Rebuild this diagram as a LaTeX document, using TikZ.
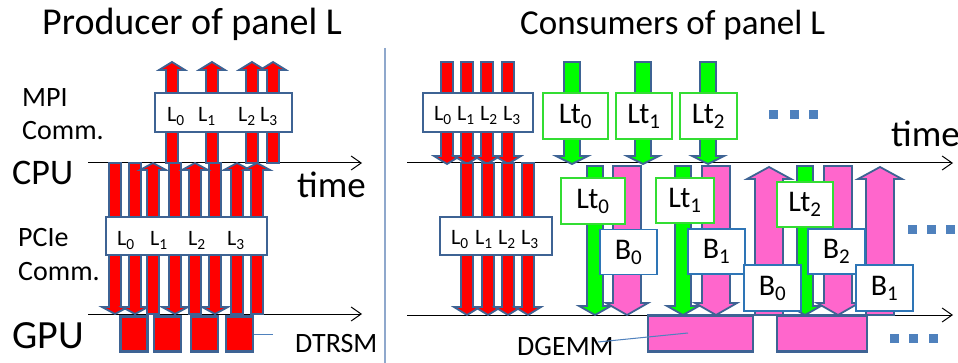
\documentclass[tikz,border=0pt]{standalone}
\usepackage{fontspec}
\setmainfont{Carlito}
\usepackage{tikz}
\usetikzlibrary{arrows.meta}

\definecolor{arrred}{HTML}{FF0000}
\definecolor{arrblue}{HTML}{3E6394}
\definecolor{arrgreen}{HTML}{00FF00}
\definecolor{arrpink}{HTML}{FF66CC}
\definecolor{ltgreen}{HTML}{33DD33}
\definecolor{bblue}{HTML}{2E75B6}
\definecolor{dotblue}{HTML}{4F81BD}
\definecolor{sepgray}{HTML}{8FA8CC}

% block arrow: style, x, tail y, tip y, head base y, half shaft, half head
\newcommand{\blkarrow}[7]{%
  \draw[#1] ({#2-#6},#3) -- ({#2+#6},#3) -- ({#2+#6},#5) -- ({#2+#7},#5)
    -- (#2,#4) -- ({#2-#7},#5) -- ({#2-#6},#5) -- cycle;}

\begin{document}
\begin{tikzpicture}[
    x=1pt, y=-1pt,
    txt/.style={inner sep=0pt, anchor=base west},
    head/.style={txt, font=\fontsize{38}{44}\selectfont},
    big/.style={txt, font=\fontsize{37}{44}\selectfont},
    mid/.style={txt, font=\fontsize{28}{34}\selectfont},
    lsub/.style={inner sep=0pt, anchor=base, font=\fontsize{22}{26}\selectfont},
    lbox/.style={rectangle, draw=arrblue, line width=2.2pt, fill=white, inner sep=0pt},
    ltbox/.style={rectangle, draw=ltgreen, line width=1.4pt, fill=white, inner sep=0pt,
        font=\fontsize{30}{36}\selectfont},
    bbox/.style={rectangle, draw=bblue, line width=1.4pt, fill=white, inner sep=0pt,
        font=\fontsize{30}{36}\selectfont},
    redarr/.style={fill=arrred, draw=arrblue, line width=1.8pt},
    grnarr/.style={fill=arrgreen, draw=arrblue, line width=1.8pt},
    pnkarr/.style={fill=arrpink, draw=arrblue, line width=1.8pt},
    trsm/.style={rectangle, draw=arrblue, line width=2.2pt, fill=arrred, inner sep=0pt,
        minimum width=27pt, minimum height=35pt},
    gemm/.style={rectangle, draw=arrblue, line width=2.2pt, fill=arrpink, inner sep=0pt,
        minimum height=36pt},
    dot/.style={rectangle, fill=dotblue, minimum size=9pt, inner sep=0pt},
    timeln/.style={-{Straight Barb[length=10pt,width=14pt]}, line width=1pt},
    lead/.style={draw=dotblue, line width=1pt}
]
\useasboundingbox (0,0) rectangle (958,363);

% titles and separator
\node[head] (prod) at (42,35) {Producer of panel L};
\node[head, font=\fontsize{35}{42}\selectfont] (cons) at (520,35) {Consumers of panel L};
\coordinate (sepa) at (385,48);
\coordinate (sepb) at (385,363);
\draw[sepgray, line width=1.5pt] (sepa) -- (sepb);

% time lines
\coordinate (cpul0) at (88,163);
\coordinate (cpul1) at (362,163);
\coordinate (gpul0) at (88,314);
\coordinate (gpul1) at (362,314);
\coordinate (cpur0) at (407,163);
\coordinate (cpur1) at (953,163);
\coordinate (gpur0) at (407,315);
\coordinate (gpur1) at (953,315);
\draw[timeln] (cpul0) -- (cpul1);
\draw[timeln] (gpul0) -- (gpul1);
\draw[timeln] (cpur0) -- (cpur1);
\draw[timeln] (gpur0) -- (gpur1);

% row labels
\node[mid] (mpi) at (22,107) {MPI};
\node[mid] (mpicomm) at (22,140) {Comm.};
\node[big, font=\fontsize{36}{44}\selectfont] (cpu) at (12,185) {CPU};
\node[big] (timel) at (297,198) {time};
\node[mid] (pcie) at (18,247) {PCIe};
\node[mid] (pciecomm) at (18,280) {Comm.};
\node[big, font=\fontsize{40}{46}\selectfont] (gpu) at (12,348) {GPU};
\node[mid] (dtrsm) at (295,352) {DTRSM};
\node[big] (timer) at (891,147) {time};
\node[mid] (dgemm) at (517,355) {DGEMM};

% producer: MPI sends
\foreach \x in {172,212,252,273}
  {\blkarrow{redarr}{\x}{163}{62}{70}{6}{13}}
\node[lbox, minimum width=137pt, minimum height=39pt] (mpil) at (223.5,112.5) {};
\node[lsub] (ml0) at (176,122) {L\textsubscript{0}};
\node[lsub] (ml1) at (207,122) {L\textsubscript{1}};
\node[lsub] (ml2) at (247,122) {L\textsubscript{2}};
\node[lsub] (ml3) at (269,122) {L\textsubscript{3}};

% producer: PCIe transfers
\foreach \x in {115,135,175,215}
  {\blkarrow{redarr}{\x}{163}{314}{307}{6}{13}}
\foreach \x in {153,195,237,257}
  {\blkarrow{redarr}{\x}{314}{163}{170}{6}{13}}
\node[lbox, minimum width=161pt, minimum height=38pt] (pcil) at (186.5,236) {};
\node[lsub] (pl0) at (126,246) {L\textsubscript{0}};
\node[lsub] (pl1) at (159,246) {L\textsubscript{1}};
\node[lsub] (pl2) at (197,246) {L\textsubscript{2}};
\node[lsub] (pl3) at (236,246) {L\textsubscript{3}};

% producer: DTRSM on GPU
\node[trsm] (t0) at (134,334) {};
\node[trsm] (t1) at (167.5,334) {};
\node[trsm] (t2) at (204.5,334) {};
\node[trsm] (t3) at (239.5,334) {};
\coordinate (trsmlead) at (273,334);
\draw[lead] (t3.east) -- (trsmlead);

% consumers: MPI receives
\foreach \x in {447,467,487,508}
  {\blkarrow{redarr}{\x}{62}{164}{156}{6}{13}}
\foreach \x in {572,643,708}
  {\blkarrow{grnarr}{\x}{62}{164}{156}{8}{16}}
\node[lbox, minimum width=110pt, minimum height=39pt] (mpir) at (478,112.5) {};
\node[lsub] (mr0) at (443,121) {L\textsubscript{0}};
\node[lsub] (mr1) at (466,121) {L\textsubscript{1}};
\node[lsub] (mr2) at (489,121) {L\textsubscript{2}};
\node[lsub] (mr3) at (512,121) {L\textsubscript{3}};
\node[ltbox, minimum width=65pt, minimum height=46pt] (lta) at (575.5,116) {Lt\textsubscript{0}};
\node[ltbox, minimum width=56pt, minimum height=46pt] (ltb) at (644,116) {Lt\textsubscript{1}};
\node[ltbox, minimum width=57pt, minimum height=46pt] (ltc) at (708.5,116) {Lt\textsubscript{2}};
\node[dot] (d1) at (773,115) {};
\node[dot] (d2) at (794,115) {};
\node[dot] (d3) at (813,115) {};

% consumers: PCIe transfers
\foreach \x in {467,488,508,528}
  {\blkarrow{redarr}{\x}{163}{315}{307}{6}{13}}
\node[lbox, minimum width=112pt, minimum height=38pt] (pcir) at (496,236) {};
\node[lsub] (pr0) at (460,245) {L\textsubscript{0}};
\node[lsub] (pr1) at (484,245) {L\textsubscript{1}};
\node[lsub] (pr2) at (507,245) {L\textsubscript{2}};
\node[lsub] (pr3) at (530,245) {L\textsubscript{3}};

\foreach \x in {595,683,805}
  {\blkarrow{grnarr}{\x}{166}{315}{306}{8}{16}}
\foreach \x in {627,716,838}
  {\blkarrow{pnkarr}{\x}{166}{315}{303}{14}{21}}
\foreach \x in {769,880}
  {\blkarrow{pnkarr}{\x}{315}{167}{179}{14}{22}}

\node[ltbox, minimum width=64pt, minimum height=46pt] (ltd) at (593,201) {Lt\textsubscript{0}};
\node[ltbox, minimum width=58pt, minimum height=45pt] (lte) at (685,200.5) {Lt\textsubscript{1}};
\node[ltbox, minimum width=56pt, minimum height=45pt] (ltf) at (805,204.5) {Lt\textsubscript{2}};
\node[bbox, minimum width=57pt, minimum height=45pt] (ba) at (628.5,252) {B\textsubscript{0}};
\node[bbox, minimum width=57pt, minimum height=45pt] (bb) at (716.5,251.5) {B\textsubscript{1}};
\node[bbox, minimum width=57pt, minimum height=45pt] (bc) at (836.5,251.5) {B\textsubscript{2}};
\node[bbox, minimum width=57pt, minimum height=46pt] (bd) at (772.5,288) {B\textsubscript{0}};
\node[bbox, minimum width=57pt, minimum height=46pt] (be) at (884.5,288) {B\textsubscript{1}};
\node[dot] (d4) at (912,230) {};
\node[dot] (d5) at (931,230) {};
\node[dot] (d6) at (950,230) {};

% consumers: DGEMM on GPU
\node[gemm, minimum width=105pt] (g0) at (700.5,333.5) {};
\node[gemm, minimum width=90pt] (g1) at (822,333.5) {};
\node[dot] (d7) at (894,338) {};
\node[dot] (d8) at (913,338) {};
\node[dot] (d9) at (933,338) {};
\coordinate (gemmlead) at (598,342);
\coordinate (gemmin) at (688,333);
\draw[lead] (gemmlead) -- (gemmin);
\end{tikzpicture}
\end{document}
